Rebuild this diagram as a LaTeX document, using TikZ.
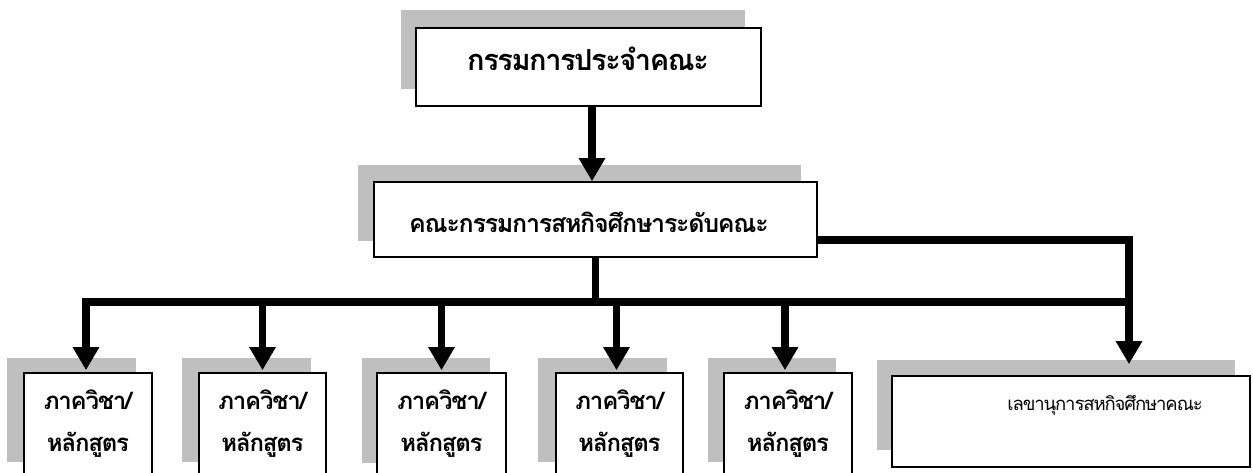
\documentclass[tikz,border=0pt]{standalone}
\usepackage{fontspec}
\newfontfamily\thaitight[Script=Thai,LetterSpace=-5]{Loma}
\newfontfamily\thaisec[Script=Thai,LetterSpace=-6]{Loma}
\usetikzlibrary{arrows.meta}
\definecolor{shadowgray}{HTML}{BFBFBF}
\tikzset{
  shadowbox/.style={fill=shadowgray, draw=none},
  orgbox/.style={draw=black, line width=1.6pt, fill=white, inner sep=0pt},
  toptxt/.style={font=\thaitight\bfseries\fontsize{29}{32}\selectfont},
  midtxt/.style={font=\thaitight\bfseries\fontsize{25}{28}\selectfont},
  smalltxt/.style={font=\thaitight\bfseries\fontsize{24}{42}\selectfont, align=center},
  sectxt/.style={font=\thaisec\fontsize{18.5}{22}\selectfont},
  conn/.style={line width=7.5pt, draw=black},
  arr/.style={conn, -{Triangle[width=25pt,length=23pt]}},
}
\begin{document}
\begin{tikzpicture}[x=1pt,y=-1pt]
\useasboundingbox (0,0) rectangle (1253,472);
\clip (0,0) rectangle (1253,472);
% shadows
\fill[shadowgray] (401,10) rectangle (745,89);
\fill[shadowgray] (358,165) rectangle (801,241);
\fill[shadowgray] (7,358) rectangle (136,462);
\fill[shadowgray] (182,358) rectangle (311,462);
\fill[shadowgray] (362,358) rectangle (490,463);
\fill[shadowgray] (538,358) rectangle (667,462);
\fill[shadowgray] (708,358) rectangle (836,462);
\fill[shadowgray] (877,360) rectangle (1235,450);
% boxes
\node[orgbox, minimum width=345pt, minimum height=78pt] (top) at (588.5,67) {};
\node[toptxt] (toptext) at (588,59) {กรรมการประจำคณะ};
\node[orgbox, minimum width=443pt, minimum height=75pt] (mid) at (595.5,219.5) {};
\node[midtxt] (midtext) at (589,222) {คณะกรรมการสหกิจศึกษาระดับคณะ};
\node[orgbox, smalltxt, minimum width=128pt, minimum height=102pt] (b1) at (88,424) {ภาควิชา/\\หลักสูตร};
\node[orgbox, smalltxt, minimum width=127pt, minimum height=102pt] (b2) at (262.5,424) {ภาควิชา/\\หลักสูตร};
\node[orgbox, smalltxt, minimum width=129pt, minimum height=102pt] (b3) at (441.5,424) {ภาควิชา/\\หลักสูตร};
\node[orgbox, smalltxt, minimum width=127pt, minimum height=102pt] (b4) at (619.5,424) {ภาควิชา/\\หลักสูตร};
\node[orgbox, smalltxt, minimum width=128pt, minimum height=102pt] (b5) at (788,424) {ภาควิชา/\\หลักสูตร};
\node[orgbox, minimum width=358pt, minimum height=91pt] (sec) at (1071,421.5) {};
\node[sectxt] (sectext) at (1105,405) {เลขานุการสหกิจศึกษาคณะ};
% connectors
\coordinate (busL) at (86,302);
\coordinate (busR) at (1129,302);
\coordinate (corner) at (1129,240);
\draw[arr] ([xshift=3.5pt]top.south) -- ([xshift=-3.5pt]mid.north);
\draw[conn] (mid.south) -- (mid.south |- busL);
\draw[arr, line join=miter] ([yshift=-20.5pt]mid.east) -- (corner) -- ([yshift=11pt]corner |- sec.north);
\draw[arr, line join=miter] (busR) -- (busL) -- ([xshift=-2pt,yshift=2pt]b1.north);
\draw[arr] (b2.north |- busL) -- ([yshift=2pt]b2.north);
\draw[arr] (b3.north |- busL) -- ([yshift=2pt]b3.north);
\draw[arr] ([xshift=-3pt]b4.north |- busL) -- ([xshift=-3pt,yshift=2pt]b4.north);
\draw[arr] ([xshift=-3pt]b5.north |- busL) -- ([xshift=-3pt,yshift=2pt]b5.north);
\end{tikzpicture}
\end{document}
